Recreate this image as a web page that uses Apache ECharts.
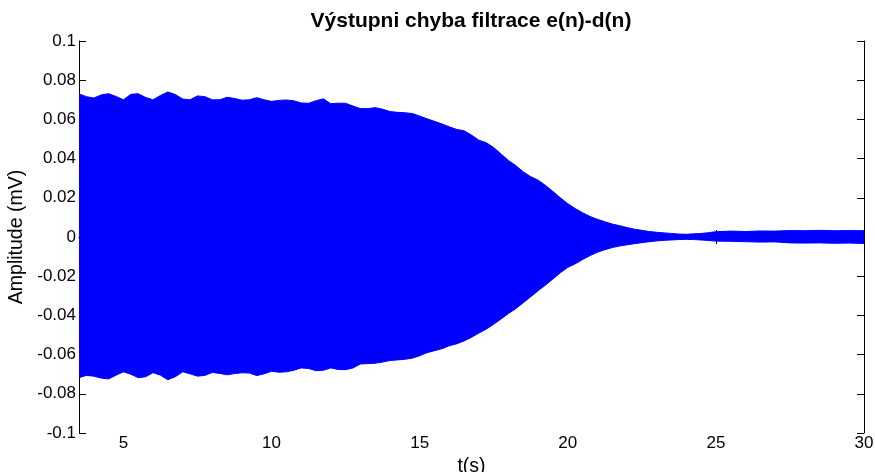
<!DOCTYPE html>
<html>
<head>
<meta charset="utf-8">
<title>Výstupni chyba filtrace</title>
<script src="https://cdn.jsdelivr.net/npm/echarts@6/dist/echarts.min.js"></script>
<style>
  html, body { margin: 0; padding: 0; background: #fff; }
  #chart { width: 875px; height: 472px; }
</style>
</head>
<body>
<div id="chart"></div>
<script>
// Time axis (s) of the envelope samples
const timeSec = [
  3.5, 3.75, 4.0, 4.25, 4.5, 4.75, 5.0, 5.25, 5.5, 5.75,
  6.0, 6.25, 6.5, 6.75, 7.0, 7.25, 7.5, 7.75, 8.0, 8.25,
  8.5, 8.75, 9.0, 9.25, 9.5, 9.75, 10.0, 10.25, 10.5, 10.75,
  11.0, 11.25, 11.5, 11.75, 12.0, 12.25, 12.5, 12.75, 13.0, 13.25,
  13.5, 13.75, 14.0, 14.25, 14.5, 14.75, 15.0, 15.25, 15.5, 15.75,
  16.0, 16.25, 16.5, 16.75, 17.0, 17.25, 17.5, 17.75, 18.0, 18.25,
  18.5, 18.75, 19.0, 19.25, 19.5, 19.75, 20.0, 20.25, 20.5, 20.75,
  21.0, 21.25, 21.5, 21.75, 22.0, 22.25, 22.5, 22.75, 23.0, 23.25,
  23.5, 23.75, 24.0, 24.25, 24.5, 24.75, 25.0,
  25.5, 26.0, 26.5, 27.0, 27.5, 28.0, 28.5, 29.0, 29.5, 30.0
];

// Upper envelope of the error signal e(n)-d(n), mV
const upperEnv = [
  0.0730, 0.0716, 0.0709, 0.0725, 0.0731, 0.0717, 0.0700, 0.0728, 0.0731, 0.0712,
  0.0700, 0.0722, 0.0740, 0.0727, 0.0704, 0.0700, 0.0720, 0.0716, 0.0700, 0.0700,
  0.0713, 0.0707, 0.0698, 0.0700, 0.0711, 0.0700, 0.0692, 0.0697, 0.0699, 0.0695,
  0.0684, 0.0682, 0.0695, 0.0705, 0.0680, 0.0683, 0.0682, 0.0668, 0.0655, 0.0655,
  0.0660, 0.0652, 0.0640, 0.0636, 0.0634, 0.0630, 0.0617, 0.0603, 0.0590, 0.0577,
  0.0562, 0.0549, 0.0542, 0.0520, 0.0494, 0.0481, 0.0456, 0.0423, 0.0390, 0.0364,
  0.0332, 0.0308, 0.0290, 0.0263, 0.0232, 0.0200, 0.0170, 0.0145, 0.0124, 0.0105,
  0.0090, 0.0078, 0.0066, 0.0058, 0.0048, 0.0040, 0.0034, 0.0028, 0.0024, 0.0021,
  0.0018, 0.0015, 0.0014, 0.0016, 0.0018, 0.0022, 0.0027,
  0.0030, 0.0028, 0.0031, 0.0030, 0.0033, 0.0032, 0.0034, 0.0032, 0.0033, 0.0032
];

// Lower envelope of the error signal e(n)-d(n), mV
const lowerEnv = [
  -0.0718, -0.0706, -0.0710, -0.0720, -0.0724, -0.0705, -0.0688, -0.0700, -0.0718, -0.0713,
  -0.0692, -0.0705, -0.0728, -0.0713, -0.0688, -0.0698, -0.0710, -0.0706, -0.0691, -0.0696,
  -0.0703, -0.0697, -0.0693, -0.0694, -0.0707, -0.0698, -0.0685, -0.0690, -0.0688, -0.0680,
  -0.0668, -0.0671, -0.0682, -0.0680, -0.0668, -0.0676, -0.0677, -0.0668, -0.0648, -0.0646,
  -0.0644, -0.0638, -0.0630, -0.0627, -0.0624, -0.0618, -0.0606, -0.0590, -0.0580, -0.0570,
  -0.0555, -0.0545, -0.0530, -0.0512, -0.0490, -0.0470, -0.0445, -0.0418, -0.0390, -0.0365,
  -0.0335, -0.0305, -0.0274, -0.0245, -0.0214, -0.0182, -0.0155, -0.0137, -0.0115, -0.0095,
  -0.0078, -0.0065, -0.0054, -0.0046, -0.0040, -0.0034, -0.0029, -0.0024, -0.0020, -0.0017,
  -0.0015, -0.0013, -0.0012, -0.0013, -0.0015, -0.0018, -0.0021,
  -0.0022, -0.0024, -0.0026, -0.0025, -0.0030, -0.0031, -0.0030, -0.0032, -0.0031, -0.0033
];

// Axis ranges and tick positions
const xRange = [3.5, 30];
const xTicks = [5, 10, 15, 20, 25, 30];
const yRange = [-0.1, 0.1];
const yStep = 0.02;

const FONT = '"Liberation Sans", Arial, Helvetica, sans-serif';
const chart = echarts.init(document.getElementById('chart'), null, { renderer: 'canvas' });

const rows = timeSec.map((t, i) => [t, upperEnv[i], lowerEnv[i]]);

const axisLine = { show: true, lineStyle: { color: '#000', width: 1 } };
const tickStyle = { show: true, inside: true, length: 7, lineStyle: { color: '#000', width: 1 } };

chart.setOption({
  animation: false,
  backgroundColor: '#fff',
  grid: { left: 79, right: 11, top: 41, bottom: 39, containLabel: false, outerBoundsMode: 'none' },
  graphic: [{
    type: 'text',
    x: 471, y: 21,
    style: {
      text: 'Výstupni chyba filtrace e(n)-d(n)',
      font: 'bold 21px ' + FONT,
      fill: '#000',
      align: 'center',
      verticalAlign: 'middle'
    }
  }],
  xAxis: [{
    type: 'value', position: 'bottom', min: xRange[0], max: xRange[1],
    axisLine: axisLine,
    axisTick: Object.assign({ customValues: xTicks }, tickStyle),
    axisLabel: { customValues: xTicks, color: '#000', fontSize: 17, fontFamily: FONT, margin: 2 },
    splitLine: { show: false },
    name: 't(s)', nameLocation: 'middle', nameGap: 20,
    nameTextStyle: { color: '#000', fontSize: 19.5, fontFamily: FONT }
  }, {
    type: 'value', position: 'top', min: xRange[0], max: xRange[1],
    axisLine: axisLine,
    axisTick: Object.assign({ customValues: xTicks }, tickStyle),
    axisLabel: { show: false },
    splitLine: { show: false }
  }],
  yAxis: [{
    type: 'value', position: 'left', min: yRange[0], max: yRange[1], interval: yStep,
    axisLine: axisLine,
    axisTick: tickStyle,
    axisLabel: {
      color: '#000', fontSize: 17, fontFamily: FONT, margin: 3,
      formatter: v => String(+v.toFixed(2))
    },
    splitLine: { show: false },
    name: 'Amplitude (mV)', nameLocation: 'middle', nameGap: 49,
    nameTextStyle: { color: '#000', fontSize: 19.5, fontFamily: FONT }
  }, {
    type: 'value', position: 'right', min: yRange[0], max: yRange[1], interval: yStep,
    axisLine: axisLine,
    axisTick: tickStyle,
    axisLabel: { show: false },
    splitLine: { show: false }
  }],
  series: [{
    type: 'custom',
    name: 'e(n)-d(n)',
    xAxisIndex: 0, yAxisIndex: 0,
    clip: true,
    data: rows,
    encode: { x: 0, y: [1, 2] },
    renderItem: function (params, api) {
      // the whole band is one polygon: upper edge forward, lower edge back
      if (params.dataIndex !== 0) return null;
      const pts = [];
      for (let i = 0; i < rows.length; i++) pts.push(api.coord([rows[i][0], rows[i][1]]));
      for (let i = rows.length - 1; i >= 0; i--) pts.push(api.coord([rows[i][0], rows[i][2]]));
      return {
        type: 'polygon',
        shape: { points: pts },
        style: { fill: '#0000ff', stroke: '#0000ff', lineWidth: 1 }
      };
    }
  }]
});
</script>
</body>
</html>
